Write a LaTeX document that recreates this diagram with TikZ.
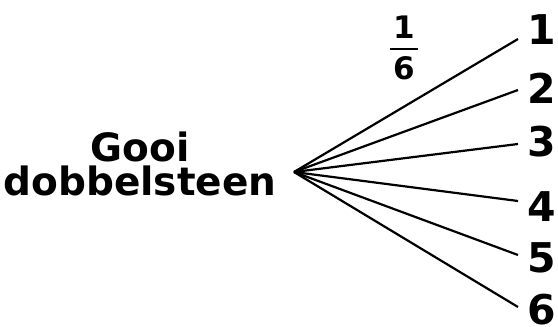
\documentclass[tikz,border=0pt]{standalone}
\usepackage{amsmath}
\usepackage{fontspec}
\setmainfont{DejaVu Sans}
\usepackage{tikz}
\usetikzlibrary{positioning}

\begin{document}
\begin{tikzpicture}[x=1pt, y=-1pt, every node/.style={font=\bfseries, inner sep=0pt},
  outcome/.style={anchor=west, font=\bfseries\fontsize{41}{41}\selectfont},
  branch/.style={line width=2.2pt}]
  \useasboundingbox (0,0) rectangle (558,327);
  \node[align=center, font=\bfseries\fontsize{39}{34}\selectfont] (throw) at (140,164) {Gooi\\dobbelsteen};
  \coordinate (root) at (294,172);
  \node[font=\bfseries\fontsize{31}{31}\selectfont] (prob) at (404,48) {$\genfrac{}{}{2pt}{0}{\text{\kern3pt1\kern3pt}}{\text{\kern3pt6\kern3pt}}$};
  \node[outcome] (n1) at (527,30) {1};
  \node[outcome] (n2) at (527,88) {2};
  \node[outcome] (n3) at (527,142) {3};
  \node[outcome] (n4) at (527,207) {4};
  \node[outcome] (n5) at (527,258) {5};
  \node[outcome] (n6) at (527,310) {6};
  \coordinate (e1) at (518,39);
  \coordinate (e2) at (518,90);
  \coordinate (e3) at (518,144);
  \coordinate (e4) at (518,201);
  \coordinate (e5) at (518,255);
  \coordinate (e6) at (518,307);
  \draw[branch] (root) -- (e1);
  \draw[branch] (root) -- (e2);
  \draw[branch] (root) -- (e3);
  \draw[branch] (root) -- (e4);
  \draw[branch] (root) -- (e5);
  \draw[branch] (root) -- (e6);
\end{tikzpicture}
\end{document}
